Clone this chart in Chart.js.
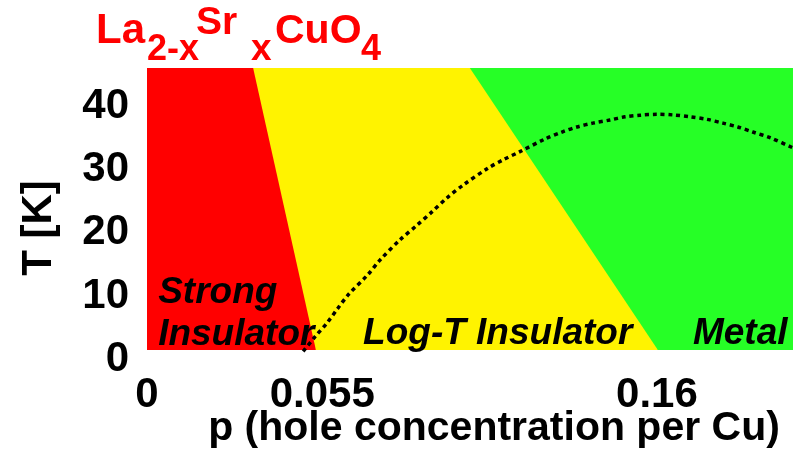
<!DOCTYPE html>
<html><head><meta charset="utf-8">
<script src="https://cdn.jsdelivr.net/npm/chart.js@4.4.1/dist/chart.umd.min.js"></script>
<style>html,body{margin:0;padding:0;background:#fff}#wrap{width:798px;height:456px;position:relative}</style>
</head><body><div id="wrap"><canvas id="c" width="798" height="456"></canvas></div>
<script>
// ---- data ----
const xTickValues = [0, 0.055, 0.16];
const xTickLabels = ['0', '0.055', '0.16'];
const yTickValues = [0, 10, 20, 30, 40];
const pRange = [0, 0.2027];
const tRange = [0, 46];
const phaseFloorT = 1.5;
// phase boundaries: p at the top of the diagram and p at its floor
const boundaryT = [46, 1.5];
const strongBoundaryP = [0.0333, 0.053];
const metalBoundaryP = [0.1013, 0.1603];
// superconducting dome Tc(p)
const tcP = [0.049, 0.0527, 0.0565, 0.0599, 0.0631, 0.0693, 0.0731, 0.0794, 0.0847, 0.0894, 0.0941, 0.0991, 0.107, 0.1117, 0.117, 0.1249, 0.1302, 0.1349, 0.1399, 0.1453, 0.15, 0.1547, 0.16, 0.165, 0.1704, 0.1757, 0.1807, 0.1854, 0.1901, 0.1955, 0.2027];
const tcT = [1.3, 3.6, 5.8, 8.1, 10.2, 13.4, 15.7, 18.9, 21.2, 23.3, 25.5, 27.5, 30.2, 31.5, 32.8, 34.8, 35.9, 36.7, 37.3, 37.8, 38.3, 38.55, 38.7, 38.6, 38.3, 37.9, 37.3, 36.7, 35.9, 35.0, 33.4];
const regionNames = [['Strong', 'Insulator'], ['Log-T Insulator'], ['Metal']];
// label anchors in data units (p of left edge, T of baseline of each line)
const regionLabelP = [0.0035, 0.0678, 0.1713];
const regionLabelT = [[8.9, 2.3], [2.4], [2.4]];

const RED = '#FF0000', YELLOW = '#FFF300', GREEN = '#26FF26';
const FONT = "'Liberation Sans', Arial, sans-serif";

function pts(xs, ys) { return xs.map((x, i) => ({x, y: ys[i]})); }

const overlay = {
  id: 'overlay',
  afterDatasetsDraw(chart) {
    const {ctx, scales: {x, y}} = chart;
    ctx.save();
    ctx.fillStyle = '#000';
    ctx.textAlign = 'left';
    ctx.textBaseline = 'alphabetic';
    ctx.font = `italic bold 37px ${FONT}`;
    regionNames.forEach((lines, i) => {
      lines.forEach((t, j) => {
        ctx.fillText(t, x.getPixelForValue(regionLabelP[i]), y.getPixelForValue(regionLabelT[i][j]));
      });
    });
    ctx.restore();
  },
  afterDraw(chart) {
    const {ctx} = chart;
    ctx.save();
    // chemical formula title
    ctx.fillStyle = RED;
    ctx.textAlign = 'left';
    ctx.textBaseline = 'alphabetic';
    const parts = [
      ['La', 42, 96, 43], ['2-x', 36, 147, 60], ['Sr', 39, 196, 34],
      ['x', 37, 251, 60], ['CuO', 41, 275, 43], ['4', 36, 361, 60]
    ];
    parts.forEach(([t, s, px, py]) => { ctx.font = `bold ${s}px ${FONT}`; ctx.fillText(t, px, py); });
    // axis titles
    ctx.fillStyle = '#000';
    ctx.textAlign = 'center';
    ctx.textBaseline = 'middle';
    ctx.font = `bold 41px ${FONT}`;
    ctx.fillText('p (hole concentration per Cu)', 494, 429);
    ctx.translate(39, 228);
    ctx.rotate(-Math.PI / 2);
    ctx.font = `bold 42px ${FONT}`;
    ctx.fillText('T [K]', 0, 0);
    ctx.restore();
  }
};

new Chart(document.getElementById('c'), {
  type: 'line',
  data: {
    datasets: [
      { label: 'Tc', data: pts(tcP, tcT), borderColor: '#000', borderWidth: 3.5, borderDash: [4, 3.8],
        pointRadius: 0, fill: false, tension: 0.3 },
      { label: 'Strong Insulator', data: pts([pRange[0], strongBoundaryP[0], strongBoundaryP[1]], [boundaryT[0], boundaryT[0], boundaryT[1]]),
        borderWidth: 0, pointRadius: 0, backgroundColor: RED, fill: {value: phaseFloorT}, tension: 0 },
      { label: 'Log-T Insulator', data: pts([pRange[0], metalBoundaryP[0], metalBoundaryP[1]], [boundaryT[0], boundaryT[0], boundaryT[1]]),
        borderWidth: 0, pointRadius: 0, backgroundColor: YELLOW, fill: {value: phaseFloorT}, tension: 0 },
      { label: 'Metal', data: pts([pRange[0], pRange[1]], [boundaryT[0], boundaryT[0]]),
        borderWidth: 0, pointRadius: 0, backgroundColor: GREEN, fill: {value: phaseFloorT}, tension: 0 }
    ]
  },
  options: {
    responsive: false,
    animation: false,
    events: [],
    layout: { padding: { top: 68, right: 5, left: 0, bottom: 0 } },
    plugins: { legend: { display: false }, tooltip: { enabled: false }, title: { display: false } },
    scales: {
      x: {
        type: 'linear', min: pRange[0], max: pRange[1],
        grid: { display: false, drawTicks: false }, border: { display: false },
        afterBuildTicks: s => { s.ticks = xTickValues.map(v => ({value: v})); },
        afterFit: s => { s.height = 96.4; },
        ticks: { autoSkip: false, maxRotation: 0, padding: 11, color: '#000',
          font: { family: FONT, size: 42, weight: 'bold', lineHeight: 1.2 },
          callback: (v, i) => xTickLabels[i] }
      },
      y: {
        type: 'linear', min: tRange[0], max: tRange[1],
        grid: { display: false, drawTicks: false }, border: { display: false },
        afterBuildTicks: s => { s.ticks = yTickValues.map(v => ({value: v})); },
        afterFit: s => { s.width = 147; },
        ticks: { padding: 18, color: '#000',
          font: { family: FONT, size: 42, weight: 'bold' },
          callback: v => String(v) }
      }
    }
  },
  plugins: [overlay]
});
</script></body></html>
